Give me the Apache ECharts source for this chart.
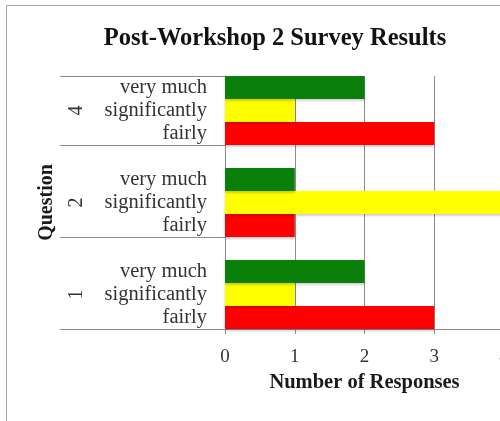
<!DOCTYPE html>
<html>
<head>
<meta charset="utf-8">
<script src="https://cdn.jsdelivr.net/npm/echarts@6/dist/echarts.min.js"></script>
<style>
html,body{margin:0;padding:0;background:#fff;}
#chart{width:500px;height:421px;}
</style>
</head>
<body>
<div id="chart"></div>
<script>
// ---- data ----
const questions = ['1', '2', '4'];              // bottom to top
const levels = ['fairly', 'significantly', 'very much']; // bottom to top within a group
const levelColors = ['#ff0000', '#ffff00', '#0a7f0a'];
const q1Values = [3, 1, 2];
const q2Values = [1, 4, 1];
const q4Values = [3, 1, 2];
const xTicks = [0, 1, 2, 3, 4];
const titleText = 'Post-Workshop 2 Survey Results';
const xName = 'Number of Responses';
const yName = 'Question';

// ---- build slot categories (gap slot between groups) ----
const groupValues = [q1Values, q2Values, q4Values];
const slotLabels = [];
const slotQuestion = [];
const slotGroupStart = [];
const barData = [];
groupValues.forEach((vals, g) => {
  if (g > 0) {
    slotLabels.push('');
    slotQuestion.push('');
    barData.push('-');
  }
  slotGroupStart.push(slotLabels.length);
  vals.forEach((v, i) => {
    slotLabels.push(levels[i]);
    slotQuestion.push(i === 1 ? questions[g] : '');
    barData.push({ value: v, itemStyle: { color: levelColors[i] } });
  });
});

const chart = echarts.init(document.getElementById('chart'), null, { renderer: 'canvas' });
const serif = '"Liberation Serif", "Times New Roman", serif';
const gray = '#8c8c8c';

chart.setOption({
  backgroundColor: '#ffffff',
  animation: false,
  graphic: [{
    type: 'rect',
    shape: { x: 6.5, y: 5.5, width: 600, height: 600 },
    style: { fill: 'none', stroke: '#a6a6a6', lineWidth: 1 },
    silent: true
  }],
  title: {
    text: titleText,
    left: 270,
    textAlign: 'center',
    top: 21,
    textStyle: { fontFamily: serif, fontWeight: 'bold', fontSize: 24.5, color: '#111' }
  },
  grid: {
    left: 225, right: -4, top: 76, bottom: 92,
    containLabel: false,
    outerBoundsMode: 'none'
  },
  xAxis: {
    type: 'value',
    min: xTicks[0],
    max: xTicks[xTicks.length - 1],
    interval: 1,
    name: xName,
    nameLocation: 'middle',
    nameGap: 42,
    nameTextStyle: { fontFamily: serif, fontWeight: 'bold', fontSize: 20.5, color: '#1a1a1a' },
    axisLine: { show: true, lineStyle: { color: gray, width: 1 } },
    axisTick: { show: true, length: 5, lineStyle: { color: gray } },
    axisLabel: { fontFamily: serif, fontSize: 19, color: '#333', margin: 19 },
    splitLine: { show: true, lineStyle: { color: gray, width: 1 } }
  },
  yAxis: [{
    type: 'category',
    data: slotLabels,
    name: yName,
    nameLocation: 'middle',
    nameGap: 168,
    nameTextStyle: { fontFamily: serif, fontWeight: 'bold', fontSize: 20, color: '#1a1a1a' },
    axisLine: { show: true, lineStyle: { color: gray, width: 1 } },
    axisTick: {
      show: true,
      length: 165,
      lineStyle: { color: gray, width: 1 },
      interval: function (index) { return slotGroupStart.indexOf(index) >= 0; }
    },
    axisLabel: {
      interval: 0,
      fontFamily: serif, fontSize: 20.5, color: '#333', margin: 18
    },
    splitLine: { show: false }
  }, {
    type: 'category',
    data: slotQuestion,
    position: 'left',
    axisLine: { show: false },
    axisTick: { show: false },
    axisLabel: {
      interval: 0,
      rotate: 90,
      fontFamily: serif, fontSize: 20, color: '#333', margin: 138
    },
    splitLine: { show: false }
  }],
  series: [{
    type: 'bar',
    yAxisIndex: 0,
    data: barData,
    barCategoryGap: '0%',
    barWidth: '100%',
    itemStyle: { shadowColor: 'rgba(0,0,0,0.18)', shadowBlur: 2, shadowOffsetY: 2 }
  }]
});
</script>
</body>
</html>
